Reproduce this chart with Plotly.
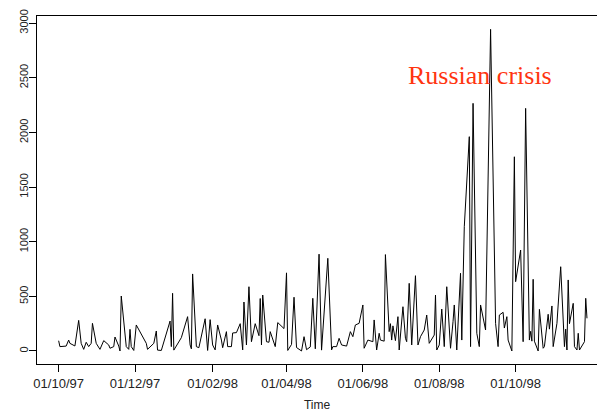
import pandas as pd
import plotly.graph_objects as go

# Daily series, days counted from 1 October 1997
start_date = "1997-10-01"
day_offset = [
    0, 1, 6, 8, 9, 13, 16, 18, 20, 22, 24, 26, 27, 30, 33, 36, 40, 41, 44, 45,
    48, 49, 50, 54, 56, 57, 58, 60, 62, 70, 71, 73, 76, 78, 79, 82, 89, 90, 91, 92,
    98, 103, 105, 106, 107, 110, 112, 117, 119, 121, 123, 125, 127, 130, 131, 134, 135, 138, 139, 142,
    145, 147, 148, 150, 152, 154, 157, 160, 161, 162, 163, 166, 168, 169, 173, 175, 178, 180, 182, 183,
    186, 188, 190, 194, 196, 198, 201, 203, 205, 208, 210, 215, 218, 219, 222, 224, 226, 230, 233, 235,
    237, 240, 243, 244, 247, 251, 252, 254, 256, 257, 260, 261, 264, 265, 266, 267, 269, 271, 272, 275,
    277, 278, 280, 282, 285, 287, 289, 292, 294, 296, 300, 301, 302, 304, 306, 308, 310, 313, 315, 316,
    318, 321, 322, 324, 328, 329, 331, 334, 336, 337, 341, 345, 349, 351, 352, 355, 356, 358, 359, 362,
    364, 365, 369, 371, 373, 376, 377, 378, 379, 380, 383, 384, 387, 388, 391, 392, 394, 395, 398, 401,
    404, 405, 406, 407, 408, 411, 412, 414, 415, 416, 420, 421, 422,
]
volume = [
    94, 40, 45, 100, 70, 46, 280, 70, 15, 80, 40, 70, 253, 70, 15, 95, 55, 25, 40, 128,
    45, 0, 503, 40, 15, 198, 40, 5, 238, 70, 15, 40, 70, 183, 8, 5, 274, 40, 528, 8,
    122, 314, 55, 20, 705, 40, 30, 295, 5, 287, 55, 10, 238, 100, 30, 177, 40, 40, 165, 168,
    250, 10, 448, 55, 588, 85, 250, 140, 480, 55, 512, 85, 80, 177, 40, 260, 222, 205, 715, 5,
    60, 492, 32, 0, 131, 12, 37, 482, 20, 886, 8, 848, 10, 40, 40, 116, 55, 45, 177, 131,
    238, 253, 421, 25, 100, 85, 284, 9, 162, 100, 90, 882, 177, 250, 100, 230, 95, 314, 9, 405,
    116, 85, 619, 55, 689, 55, 131, 192, 329, 70, 146, 512, 9, 55, 384, 40, 588, 25, 268, 421,
    9, 711, 100, 1137, 1961, 40, 2266, 162, 40, 421, 192, 2943, 253, 40, 329, 354, 210, 314, 100, 0,
    1777, 634, 924, 85, 2220, 100, 180, 90, 656, 90, 0, 381, 25, 40, 336, 200, 412, 40, 253, 771,
    40, 200, 9, 650, 250, 436, 40, 9, 162, 9, 85, 482, 299,
]

tick_dates = ["1997-10-01", "1997-12-01", "1998-02-01", "1998-04-01",
              "1998-06-01", "1998-08-01", "1998-10-01"]
tick_labels = ["01/10/97", "01/12/97", "01/02/98", "01/04/98",
               "01/06/98", "01/08/98", "01/10/98"]
y_ticks = [0, 500, 1000, 1500, 2000, 2500, 3000]

dates = pd.Timestamp(start_date) + pd.to_timedelta(day_offset, unit="D")

fig = go.Figure()
fig.add_trace(go.Scatter(
    x=dates, y=volume, mode="lines",
    line=dict(color="black", width=1),
    hoverinfo="skip", showlegend=False,
))

fig.add_annotation(
    x="1998-09-02 12:00", y=2525, xref="x", yref="y",
    text="Russian crisis", showarrow=False,
    xanchor="center", yanchor="middle",
    font=dict(family="Liberation Serif", size=26, color="#ff3410"),
)

fig.update_layout(
    width=597, height=412,
    margin=dict(l=37, r=0, t=16, b=48),
    paper_bgcolor="white", plot_bgcolor="white",
    font=dict(family="Liberation Sans", color="#222"),
    xaxis=dict(
        range=["1997-09-13 17:00", "1998-12-05"],
        tickvals=tick_dates, ticktext=tick_labels,
        ticks="outside", ticklen=7, tickcolor="black", tickwidth=1,
        showline=True, linecolor="black", linewidth=1, mirror=True,
        showgrid=False, zeroline=False,
        tickfont=dict(size=13, color="#222"),
        title=dict(text="Time", font=dict(size=12, color="#222"), standoff=14),
    ),
    yaxis=dict(
        range=[-119, 3065],
        tickvals=y_ticks,
        ticks="outside", ticklen=7, tickcolor="black", tickwidth=1,
        tickangle=-90, ticklabelstandoff=-3,
        showline=True, linecolor="black", linewidth=1,
        showgrid=False, zeroline=False,
        tickfont=dict(size=11, color="#222"),
    ),
)

fig.write_html("out.html")
